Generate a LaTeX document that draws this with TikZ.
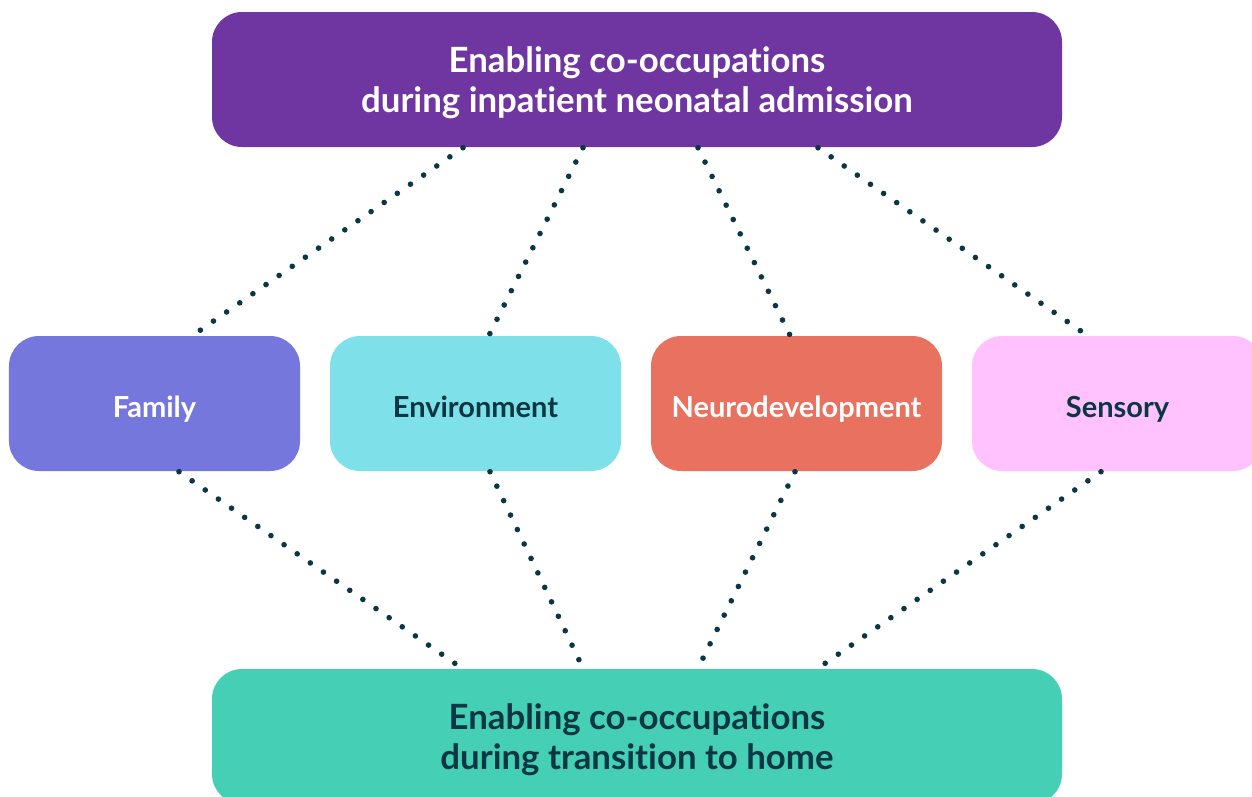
\documentclass[tikz,border=0pt]{standalone}
\usepackage{fontspec}
\setmainfont{Lato}[Ligatures=NoCommon]
\definecolor{topc}{HTML}{6F35A0}
\definecolor{famc}{HTML}{7577DC}
\definecolor{envc}{HTML}{7EE0E8}
\definecolor{neuc}{HTML}{E8725F}
\definecolor{senc}{HTML}{FFC2FF}
\definecolor{botc}{HTML}{45CFB5}
\definecolor{ink}{HTML}{0B3745}
\begin{document}
\begin{tikzpicture}[
    bigbox/.style={rounded corners=0.3cm,minimum width=8.5cm,minimum height=1.35cm,
      align=center,text depth=-1.5pt,font=\fontsize{9.9}{11.6}\selectfont\bfseries},
    midbox/.style={rounded corners=0.3cm,minimum width=2.91cm,minimum height=1.35cm,
      text height=8pt,text depth=0pt,font=\fontsize{8.25}{10}\selectfont\bfseries},
    dotline/.style={ink,line width=1.6pt,line cap=round,dash pattern=on 0pt off 4.55pt}]
      \clip(0,0)rectangle(12.52,-7.96);
      \fill[white](0,0)rectangle(12.52,-7.96);
      \node[bigbox,fill=topc,text=white](T) at(6.37,-0.795){Enabling co-occupations\\during inpatient neonatal admission};
      \node[midbox,fill=famc,text=white](M1) at(1.545,-4.035){Family};
      \node[midbox,fill=envc,text=ink](M2) at(4.755,-4.035){Environment};
      \node[midbox,fill=neuc,text=white](M3) at(7.965,-4.035){Neurodevelopment};
      \node[midbox,fill=senc,text=ink](M4) at(11.175,-4.035){Sensory};
      \node[bigbox,fill=botc,text=ink](B) at(6.37,-7.365){Enabling co-occupations\\during transition to home};
      % dotted links, top box down to the four themes
      \foreach \a/\m/\c in {-1.74/M1/0.385, -0.54/M2/0.135, 0.61/M3/-0.065, 1.81/M4/-0.305}{
        \draw[dotline]([xshift=\a cm]T.south)--([xshift=\c cm]\m.north);
      }
      % and from the themes down to the bottom box
      \foreach \m/\c/\a in {M1/0.245/-1.75, M2/0.145/-0.54, M3/-0.015/0.61, M4/-0.165/1.81}{
        \draw[dotline]([xshift=\c cm]\m.south)--([xshift=\a cm]B.north);
      }
    \end{tikzpicture}
\end{document}
